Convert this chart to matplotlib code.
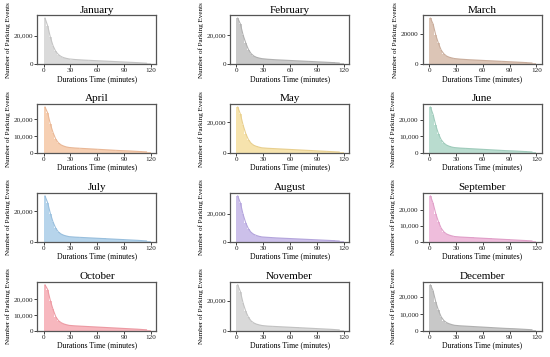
import numpy as np
import matplotlib
matplotlib.use("Agg")
import matplotlib.pyplot as plt
from matplotlib.ticker import FuncFormatter

plt.rcParams['font.family'] = ['Liberation Serif', 'DejaVu Serif']

# bin edges (minutes): 3-min bins up to 30, then 10-min bins to 120
edges = [0, 3, 6, 9, 12, 15, 18, 21, 24, 27, 30, 40, 50, 60, 70, 80, 90, 100, 110, 120]

months = ['January', 'February', 'March', 'April', 'May', 'June',
          'July', 'August', 'September', 'October', 'November', 'December']

jan = [32500, 27000, 19000, 13000, 9000, 6800, 5400, 4600, 4100, 3700, 3300, 2900, 2600, 2300, 2000, 1700, 1400, 1100, 700]
feb = [31500, 27500, 20000, 14500, 10000, 7200, 5600, 4700, 4200, 3800, 3400, 3000, 2700, 2400, 2100, 1800, 1500, 1200, 800]
mar = [31000, 27000, 19500, 14000, 9500, 7000, 5500, 4700, 4200, 3800, 3400, 3000, 2700, 2400, 2100, 1800, 1500, 1200, 800]
apr = [27000, 23500, 17000, 12000, 8200, 6000, 4800, 4100, 3600, 3300, 3000, 2700, 2400, 2100, 1800, 1500, 1300, 1000, 700]
may = [29500, 25000, 18000, 12500, 8600, 6300, 5000, 4300, 3800, 3400, 3100, 2800, 2500, 2200, 1900, 1600, 1300, 1000, 700]
jun = [27500, 23000, 16500, 11500, 8000, 6000, 4800, 4100, 3600, 3300, 3000, 2700, 2400, 2100, 1800, 1500, 1300, 1000, 700]
jul = [30000, 25500, 18500, 13000, 9000, 6500, 5200, 4400, 3900, 3500, 3200, 2900, 2600, 2300, 2000, 1700, 1400, 1100, 700]
aug = [32500, 27500, 19500, 13500, 9300, 6800, 5400, 4600, 4000, 3600, 3300, 2900, 2600, 2300, 2000, 1700, 1400, 1100, 700]
sep = [28500, 24000, 17500, 12500, 8600, 6300, 5000, 4300, 3800, 3400, 3100, 2800, 2500, 2200, 1900, 1600, 1300, 1000, 700]
oct_ = [29000, 26000, 19000, 13500, 9000, 6500, 5200, 4400, 3900, 3500, 3200, 2900, 2600, 2300, 2000, 1700, 1400, 1100, 700]
nov = [30500, 26000, 18500, 13000, 9000, 6600, 5300, 4500, 4000, 3600, 3200, 2900, 2600, 2300, 2000, 1700, 1400, 1100, 700]
dec = [27000, 23500, 17000, 12000, 8300, 6100, 4900, 4200, 3700, 3300, 3000, 2700, 2400, 2100, 1800, 1500, 1300, 1000, 700]
counts = [jan, feb, mar, apr, may, jun, jul, aug, sep, oct_, nov, dec]

fill_colors = ['#dadada', '#c9c9c9', '#dcc5b6', '#f6cfb2', '#f6e3ad', '#b9dccf',
               '#b6d4eb', '#ccc0ea', '#efbddc', '#f7b7be', '#d9d9d9', '#c8c8c8']
line_colors = ['#c4c4c4', '#b0b0b0', '#c9ad9c', '#e9b796', '#e8cf8f', '#9fcbbb',
               '#99bfdd', '#b4a5dc', '#e09fc8', '#ec9aa3', '#c2c2c2', '#b0b0b0']

yticks = [[0, 20000], [0, 20000], [0, 20000], [0, 10000, 20000],
          [0, 20000], [0, 10000, 20000], [0, 20000], [0, 20000],
          [0, 10000, 20000], [0, 10000, 20000], [0, 20000], [0, 10000, 20000]]

comma = FuncFormatter(lambda v, p: '{:,.0f}'.format(v))
plain = FuncFormatter(lambda v, p: '{:.0f}'.format(v))

fig, axes = plt.subplots(4, 3, figsize=(5.5, 3.57), dpi=100)
plt.subplots_adjust(left=0.068, right=0.985, top=0.957, bottom=0.073, wspace=0.62, hspace=0.82)

e = np.array(edges)
widths = np.diff(e)
centers = e[:-1] + widths / 2

for i, ax in enumerate(axes.flat):
    c = counts[i]
    ax.bar(e[:-1], c, width=widths, align='edge', color=fill_colors[i], edgecolor='none')
    ax.plot(centers, c, color=line_colors[i], lw=0.8)
    ax.set_xlim(-7, 126)
    ax.set_ylim(0, max(c) * 1.06)
    ax.set_xticks([0, 30, 60, 90, 120])
    ax.set_yticks(yticks[i])
    ax.yaxis.set_major_formatter(plain if months[i] == 'March' else comma)
    ax.tick_params(labelsize=5.2, length=2, width=0.6, pad=1, colors='#222222')
    for s in ax.spines.values():
        s.set_color('#555555')
        s.set_linewidth(0.9)
    ax.set_title(months[i], fontsize=8, pad=2)
    ax.set_xlabel('Durations Time (minutes)', fontsize=5.6, labelpad=1)
    ax.set_ylabel('Number of Parking Events', fontsize=5.1, labelpad=2)

fig.savefig('out.png', dpi=100)
